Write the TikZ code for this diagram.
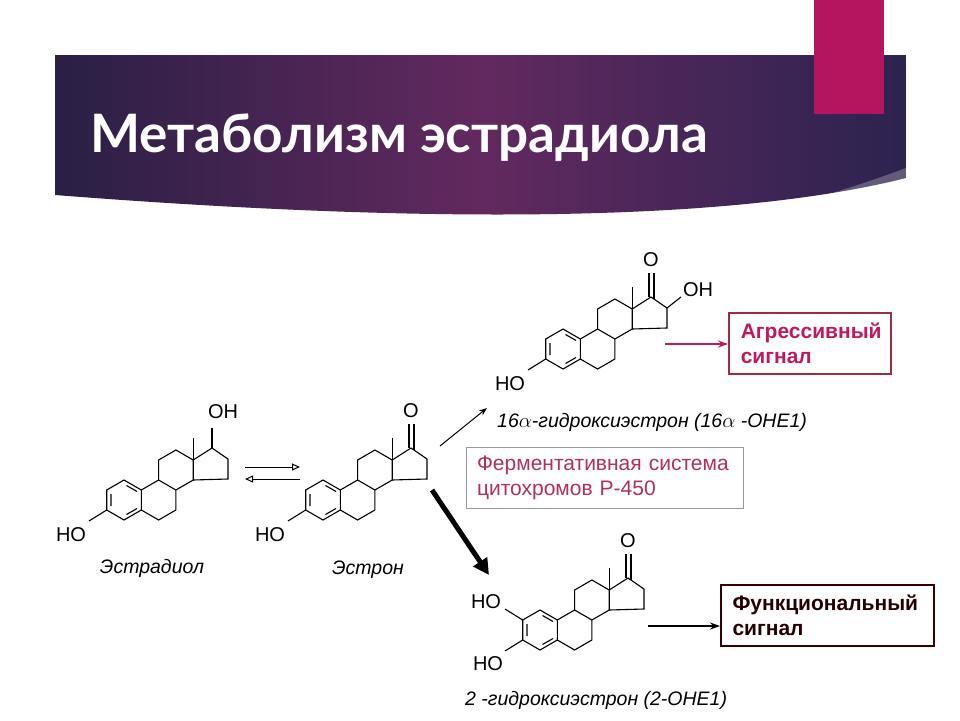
\documentclass[tikz,border=0pt]{standalone}
\usepackage{fontspec}
\setmainfont{Liberation Sans}
\newfontfamily\titlefont{Lato}
\usetikzlibrary{arrows.meta}
\definecolor{bandL}{HTML}{2A1F45}
\definecolor{bandM}{HTML}{62295F}
\definecolor{bandR}{HTML}{2C2350}
\definecolor{mag}{HTML}{B5155F}
\definecolor{rose}{HTML}{B0305E}
\definecolor{aggr}{HTML}{C01A5C}
\definecolor{aggrb}{HTML}{A02C40}
\tikzset{
 bond/.style={line width=1.1pt,line join=miter},
 atom/.style={font=\fontsize{20}{20}\selectfont,inner sep=0pt},
 cname/.style={font=\fontsize{19.5}{19.5}\selectfont\itshape,inner sep=0pt},
 sigbox/.style={draw,line width=1.5pt,align=left,anchor=north west,inner sep=0pt,font=\fontsize{21}{25}\selectfont\bfseries}
}
\newcommand\skel{%
 \draw[bond] (0,-20)--(17.3,-10)--(17.3,10)--(0,20)--(-17.3,10)--(-17.3,-10)--cycle;
 \draw[bond] (2.5,-14.5)--(13,-8.5) (-13,-6)--(-13,6) (2.5,14.5)--(13,8.5);
 \draw[bond] (17.3,-10)--(34.6,-20)--(51.9,-10)--(51.9,10)--(34.6,20)--(17.3,10);
 \draw[bond] (34.6,-20)--(34.6,-40)--(51.9,-50)--(69.2,-40)--(69.2,-20)--(51.9,-10);
 \draw[bond] (69.2,-40)--(88,-52)--(104,-41)--(104,-21)--(69.2,-20);
 \draw[bond] (69.2,-40)--(69.2,-62);
 \draw[bond] (-17.3,10)--(-35,21);}
\newcommand\ketone{\draw[bond] (86,-52)--(86,-76) (91,-50)--(91,-76);}
\begin{document}
\begin{tikzpicture}[x=1pt,y=-1pt]
\useasboundingbox (0,0) rectangle (960,720);
\fill[white] (0,0) rectangle (960,720);
% header band
\shade[left color=bandL,right color=bandR,middle color=bandM]
 (55,55)--(906,55)--(906,178) .. controls (720,225) and (400,222) .. (55,195) --cycle;
\fill[white,opacity=0.25] (906,168) .. controls (820,200) and (760,214) .. (690,222) .. controls (790,218) and (860,202) .. (906,192) -- cycle;
\fill[mag] (814,0) rectangle (884,114);
\node[anchor=base west,text=white,font=\titlefont\fontsize{53}{53}\selectfont\bfseries,inner sep=0pt] (title) at (90,152) {Метаболизм эстрадиола};
% estradiol
\begin{scope}[shift={(124,500)}]
 \skel
 \draw[bond] (88,-52)--(88,-72);
 \node[atom] (e2oh) at (99,-88) {OH};
 \node[atom] (e2ho) at (-53,35) {HO};
\end{scope}
\node[cname] (e2) at (152,568) {Эстрадиол};
% estrone
\begin{scope}[shift={(323,500)}]
 \skel \ketone
 \node[atom] (e1o) at (88,-89) {O};
 \node[atom] (e1ho) at (-53,35) {HO};
\end{scope}
\node[cname] (e1) at (368,570) {Эстрон};
% 16alpha
\begin{scope}[shift={(563,349)}]
 \skel \ketone
 \node[atom] (ao) at (88,-89) {O};
 \draw[bond] (104,-41)--(118,-52);
 \node[atom] (aoh) at (135,-59) {OH};
 \node[atom] (aho) at (-53,35) {HO};
\end{scope}
\node[cname,anchor=west] (alab) at (497,422) {16$\alpha$-гидроксиэстрон (16$\alpha$ -OHE1)};
% 2-OH
\begin{scope}[shift={(540,630)}]
 \skel \ketone
 \node[atom] (bo) at (88,-89) {O};
 \draw[bond] (-17.3,-10)--(-35,-21);
 \node[atom] (bho1) at (-54,-28) {HO};
 \node[atom] (bho2) at (-52,34) {HO};
\end{scope}
\node[cname,anchor=west] (blab) at (465,700) {2 -гидроксиэстрон (2-OHE1)};
% boxes
\node[sigbox,draw=aggrb,text=aggr,minimum width=162pt,minimum height=61pt,text width=156pt] (agg) at (728,312) {\hspace*{9pt}Агрессивный\\\hspace*{9pt}сигнал};
\node[draw=gray!80,line width=1pt,anchor=north west,minimum width=277pt,minimum height=61pt,text width=272pt,align=left,text=rose,font=\fontsize{21}{25}\selectfont,inner sep=0pt] (ferm) at (466,447) {\hspace*{8pt}Ферментативная система\\\hspace*{8pt}цитохромов Р-450};
\node[sigbox,draw=black!80!red,text=black!85!red,minimum width=213pt,minimum height=61pt,text width=208pt,line width=2pt] (func) at (720,584) {\hspace*{9pt}Функциональный\\\hspace*{9pt}сигнал};
% arrows
\coordinate (a1s) at (665,344); \coordinate (a2s) at (648,626);
\draw[aggr,line width=1.6pt,-{Stealth[length=10pt,width=7pt]}] (a1s) -- (agg.west |- a1s);
\draw[black,line width=1.6pt,-{Stealth[length=10pt,width=7pt]}] (a2s) -- (func.west |- a2s);
\coordinate (t1) at (440,446); \coordinate (t2) at (487,408);
\draw[line width=1pt,-{Stealth[length=8pt,width=6pt]}] (t1) -- (t2);
\coordinate (k1) at (432,490); \coordinate (k2) at (489,575);
\draw[line width=5pt,-{Triangle[length=16pt,width=16pt]}] (k1) -- (k2);
\coordinate (q1) at (245,467); \coordinate (q2) at (300,467);
\coordinate (q3) at (300,479); \coordinate (q4) at (245,479);
\draw[line width=1pt,-{Triangle[open,length=8pt,width=7pt]}] (q1) -- (q2);
\draw[line width=1pt,-{Triangle[open,length=8pt,width=7pt]}] (q3) -- (q4);
\end{tikzpicture}
\end{document}
